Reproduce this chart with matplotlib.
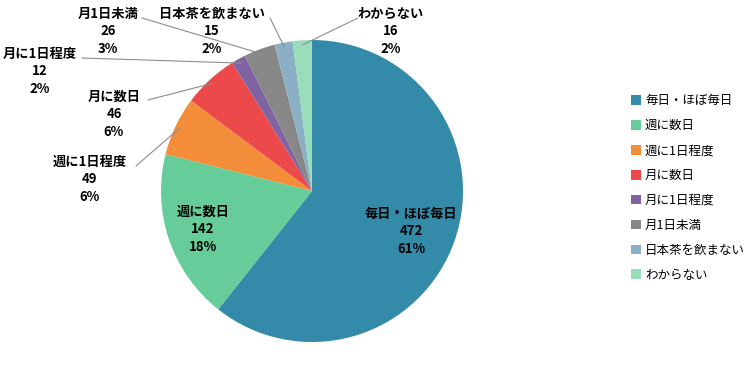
import numpy as np
import matplotlib.pyplot as plt

plt.rcParams['font.family'] = ['Noto Sans CJK JP', 'DejaVu Sans']

categories = ['毎日・ほぼ毎日', '週に数日', '週に1日程度', '月に数日',
              '月に1日程度', '月1日未満', '日本茶を飲まない', 'わからない']
counts = [472, 142, 49, 46, 12, 26, 15, 16]
percents = ['61%', '18%', '6%', '6%', '2%', '3%', '2%', '2%']
colors = ['#348BA9', '#66CC99', '#F38D3A', '#EC4A4A', '#8064A2',
          '#878787', '#8BAFC4', '#99DDBB']

fig = plt.figure(figsize=(7.56, 3.78), dpi=100)
# pie centre at about (312, 191) px, radius 151 px
ax = fig.add_axes([(312 - 151) / 756, (378 - 191 - 151) / 378, 302 / 756, 302 / 378])
wedges, _ = ax.pie(counts, colors=colors, startangle=90, counterclock=False,
                   radius=1.0, wedgeprops=dict(linewidth=0))
ax.set_xlim(-1, 1)
ax.set_ylim(-1, 1)
ax.set_aspect('equal')


def px(x, y):
    # figure pixel (from top-left) -> pie data coords
    return (x - 312) / 151, (191 - y) / 151


# inside labels
inside = {0: (411, 207), 1: (203, 205)}
for i, (x, y) in inside.items():
    tx, ty = px(x, y)
    ax.text(tx, ty, f'{categories[i]}\n{counts[i]}\n{percents[i]}',
            ha='center', va='top', fontsize=9.5, fontweight='bold',
            linespacing=1.3)

# outside labels: text centre (px) and where the leader line leaves it
outside = {
    2: ((90, 155), (136, 166)),
    3: ((114, 90), (148, 100)),
    4: ((40, 47), (82, 58)),
    5: ((108, 7), (142, 18)),
    6: ((212, 7), (270, 18)),
    7: ((391, 7), (358, 18)),
}
total = sum(counts)
cum = np.cumsum([0] + counts)
for i, ((x, y), (lx, ly)) in outside.items():
    mid = 90 - 360 * (cum[i] + counts[i] / 2) / total
    ex, ey = 0.97 * np.cos(np.radians(mid)), 0.97 * np.sin(np.radians(mid))
    tx, ty = px(x, y)
    ax.text(tx, ty, f'{categories[i]}\n{counts[i]}\n{percents[i]}',
            ha='center', va='top', fontsize=9.5, fontweight='bold',
            linespacing=1.3)
    sx, sy = px(lx, ly)
    ax.annotate('', xy=(ex, ey), xytext=(sx, sy),
                arrowprops=dict(arrowstyle='-', color='#8C8C8C', lw=0.8,
                                shrinkA=0, shrinkB=0))

leg = fig.legend(wedges, categories, loc='center left',
                 bbox_to_anchor=(620 / 756, 1 - 188 / 378),
                 frameon=False, fontsize=9, handlelength=0.8, handleheight=0.8,
                 handletextpad=0.3, labelspacing=0.95)

fig.savefig('out.png', dpi=100)
